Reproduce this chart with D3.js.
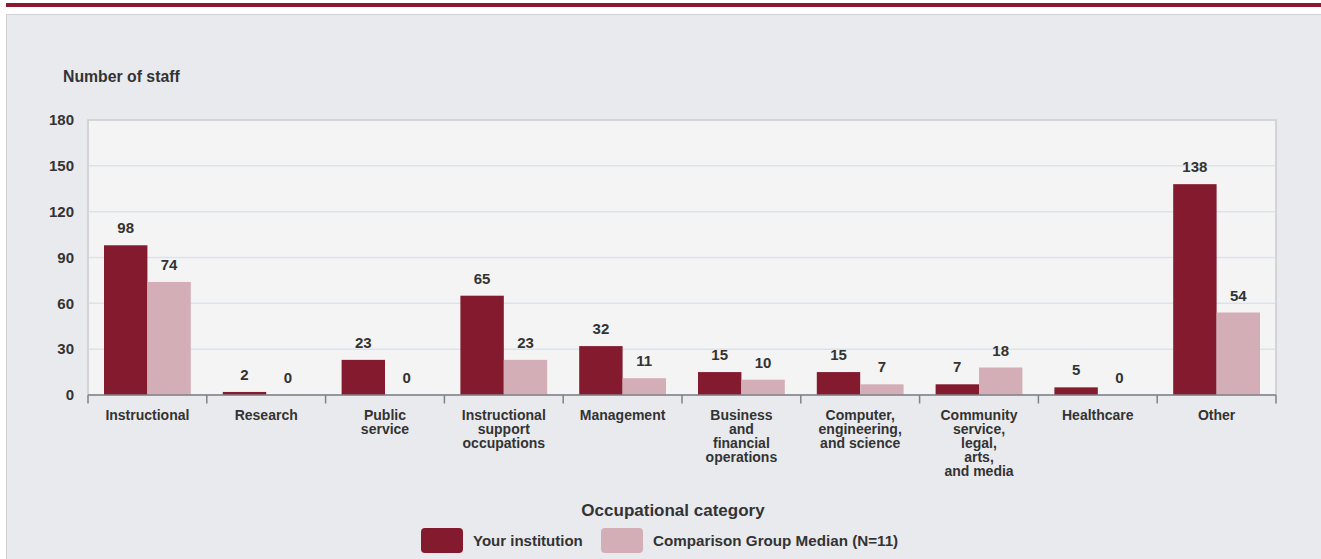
<!DOCTYPE html>
<html><head><meta charset="utf-8">
<script src="https://cdn.jsdelivr.net/npm/d3@7"></script>
<style>
html,body{margin:0;padding:0;background:#fff;}
svg{display:block;font-family:"Liberation Sans",Arial,Helvetica,sans-serif;}
</style></head>
<body>
<script>
const categories = [
  ["Instructional"],
  ["Research"],
  ["Public","service"],
  ["Instructional","support","occupations"],
  ["Management"],
  ["Business","and","financial","operations"],
  ["Computer,","engineering,","and science"],
  ["Community","service,","legal,","arts,","and media"],
  ["Healthcare"],
  ["Other"]
];
const yourInstitution = [98, 2, 23, 65, 32, 15, 15, 7, 5, 138];
const comparisonMedian = [74, 0, 0, 23, 11, 10, 7, 18, 0, 54];
const seriesNames = ["Your institution", "Comparison Group Median (N=11)"];
const yTicks = [0, 30, 60, 90, 120, 150, 180];

(function(){
const W = 1321, H = 559;
const colors = ["#841a2e", "#d4aeb7"];
const textColor = "#333333";
const svg = d3.select("body").append("svg").attr("width", W).attr("height", H);

// top stripe and panel
svg.append("rect").attr("x", 6).attr("y", 3).attr("width", W - 6).attr("height", 4).attr("fill", "#8b1a2f");
svg.append("rect").attr("x", 6.5).attr("y", 14.5).attr("width", W + 10).attr("height", H).attr("fill", "#e9eaee").attr("stroke", "#cfd0d3").attr("stroke-width", 1);

const pLeft = 88, pRight = 1276, pTop = 120, pBottom = 395;
const x0 = d3.scaleBand().domain(d3.range(categories.length)).range([pLeft, pRight]).padding(0);
const bw = x0.bandwidth();
const x1 = d3.scaleBand().domain(d3.range(seriesNames.length)).range([16, bw - 16]).padding(0);
const y = d3.scaleLinear().domain([0, 180]).range([pBottom, pTop]);

// plot background
svg.append("rect").attr("x", pLeft).attr("y", pTop).attr("width", pRight - pLeft).attr("height", pBottom - pTop)
  .attr("fill", "#f4f4f4").attr("stroke", "#c9cccc").attr("stroke-width", 1.5);

// gridlines
svg.append("g").selectAll("line").data(yTicks.filter(t => t > 0 && t < 180)).join("line")
  .attr("x1", pLeft + 1).attr("x2", pRight - 1).attr("y1", d => y(d)).attr("y2", d => y(d))
  .attr("stroke", "#d9e3ee").attr("stroke-width", 1.5);

// y tick labels
svg.append("g").selectAll("text").data(yTicks).join("text")
  .attr("x", 74).attr("y", d => y(d) + 5.3).attr("text-anchor", "end")
  .attr("font-size", 15).attr("font-weight", "bold").attr("fill", textColor).text(d => d);

svg.append("text").attr("x", 63).attr("y", 82).attr("font-size", 15.8).attr("font-weight", "bold")
  .attr("fill", textColor).text("Number of staff");

// bars
const series = [yourInstitution, comparisonMedian];
const groups = svg.append("g").selectAll("g").data(categories).join("g")
  .attr("transform", (d, i) => `translate(${x0(i)},0)`);
groups.each(function(d, i) {
  const g = d3.select(this);
  series.forEach((s, si) => {
    const v = s[i];
    g.append("rect").attr("x", x1(si)).attr("y", y(v)).attr("width", x1.bandwidth()).attr("height", pBottom - y(v))
      .attr("fill", colors[si]);
    g.append("text").attr("x", x1(si) + x1.bandwidth() / 2).attr("y", y(v) - 12)
      .attr("text-anchor", "middle").attr("font-size", 15).attr("font-weight", "bold")
      .attr("fill", textColor).text(v);
  });
});

// x axis line and ticks
svg.append("line").attr("x1", pLeft).attr("x2", pRight).attr("y1", pBottom).attr("y2", pBottom)
  .attr("stroke", "#80808a").attr("stroke-width", 1.5);
const tickPos = d3.range(categories.length).map(i => x0(i)).concat([pRight]);
svg.append("g").selectAll("line").data(tickPos).join("line")
  .attr("x1", d => d).attr("x2", d => d).attr("y1", pBottom).attr("y2", pBottom + 8.5)
  .attr("stroke", "#80808a").attr("stroke-width", 1.5);

// x labels
svg.append("g").selectAll("text").data(categories).join("text")
  .attr("text-anchor", "middle").attr("font-size", 14).attr("font-weight", "bold").attr("fill", textColor)
  .each(function(lines, i) {
    const t = d3.select(this);
    lines.forEach((ln, li) => {
      t.append("tspan").attr("x", x0(i) + bw / 2).attr("y", 420 + li * 14).text(ln);
    });
  });

// axis title
svg.append("text").attr("x", 673).attr("y", 515.5).attr("text-anchor", "middle")
  .attr("font-size", 17).attr("font-weight", "bold").attr("fill", textColor).text("Occupational category");

// legend
const legendX = [421, 601];
const legendFont = [15, 15.2];
seriesNames.forEach((n, i) => {
  svg.append("rect").attr("x", legendX[i]).attr("y", 528).attr("width", 42).attr("height", 25).attr("rx", 4)
    .attr("fill", colors[i]);
  svg.append("text").attr("x", legendX[i] + 52).attr("y", 545.5).attr("font-size", legendFont[i]).attr("font-weight", "bold")
    .attr("fill", textColor).text(n);
});
})();
</script>
</body></html>
